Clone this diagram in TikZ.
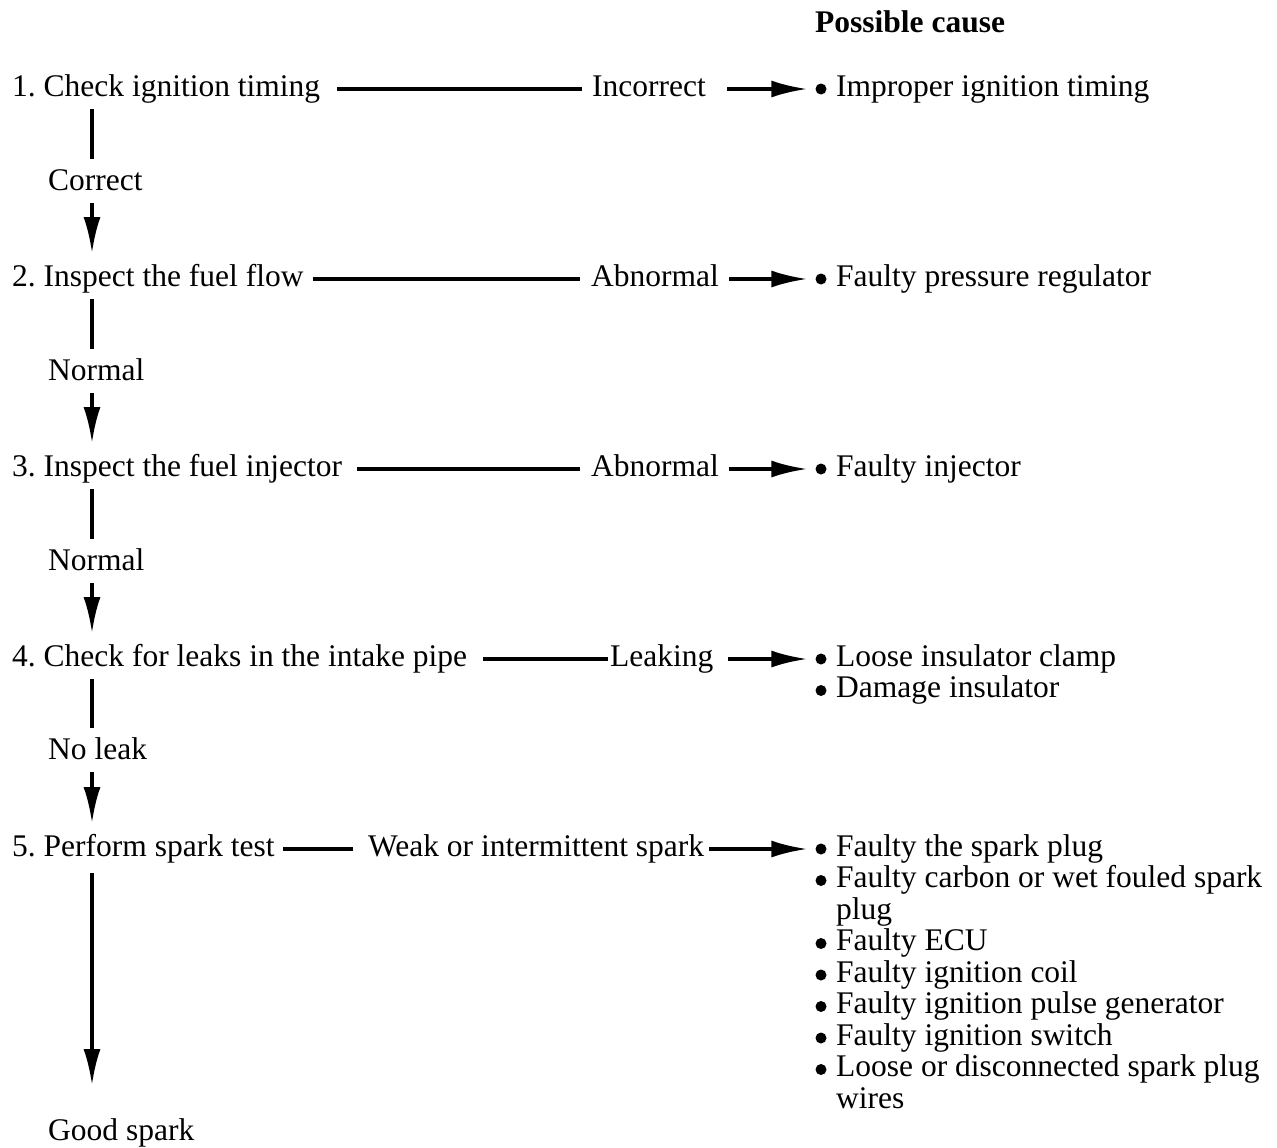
\documentclass[tikz,border=0pt]{standalone}
\usepackage{fontspec}
\setmainfont{Liberation Serif}
\usetikzlibrary{arrows.meta}
\newcommand{\dsz}{\fontsize{31.5}{31.6}\selectfont\frenchspacing}
\begin{document}
\begin{tikzpicture}[x=1pt,y=-1pt,
  txt/.style={inner sep=0pt, anchor=base west, text height=14pt, text depth=0pt, font=\dsz},
  ln/.style={line width=3.5pt},
  arr/.style={line width=3.5pt, -{Latex[length=36pt,width=17pt]}},
  bul/.style={circle, fill=black, inner sep=0pt, minimum size=11pt}]
\useasboundingbox (0,0) rectangle (1277,1148);
\coordinate (trunk) at (92,0);

\node[txt, font=\dsz\bfseries] (head) at (815,33) {Possible cause};

% steps
\node[txt] (s1) at (12,96) {1. Check ignition timing};
\node[txt] (s2) at (12,286) {2. Inspect the fuel flow};
\node[txt] (s3) at (12,476) {3. Inspect the fuel injector};
\node[txt] (s4) at (12,666) {4. Check for leaks in the intake pipe};
\node[txt] (s5) at (12,856) {5. Perform spark test};

% vertical labels
\node[txt] (v1) at (48,190) {Correct};
\node[txt] (v2) at (48,380) {Normal};
\node[txt] (v3) at (48,570) {Normal};
\node[txt] (v4) at (48,759) {No leak};
\node[txt] (gs) at (48,1140) {Good spark};

% horizontal labels
\node[txt] (l1) at (592,96) {Incorrect};
\node[txt] (l2) at (591,286) {Abnormal};
\node[txt] (l3) at (591,476) {Abnormal};
\node[txt] (l4) at (610,666) {Leaking};
\node[txt] (l5) at (368,856) {Weak or intermittent spark};

% bullets and causes
\node[bul] (b1) at (821,89) {};
\node[txt] (c1) at (836,96) {Improper ignition timing};
\node[bul] (b2) at (821,279) {};
\node[txt] (c2) at (836,286) {Faulty pressure regulator};
\node[bul] (b3) at (821,469) {};
\node[txt] (c3) at (836,476) {Faulty injector};
\node[bul] (b4) at (821,659) {};
\node[txt] (c4) at (836,666) {Loose insulator clamp};
\node[bul] (b4b) at (821,690.5) {};
\node[txt] (c4b) at (836,697.5) {Damage insulator};
\node[bul] (b5) at (821,849) {};
\node[txt] (c5) at (836,856) {Faulty the spark plug};
\node[bul] (b5b) at (821,880.5) {};
\node[txt] (c5b) at (836,887.5) {Faulty carbon or wet fouled spark};
\node[txt] (c5bb) at (836,919) {plug};
\node[bul] (b5c) at (821,943.5) {};
\node[txt] (c5c) at (836,950.5) {Faulty ECU};
\node[bul] (b5d) at (821,975) {};
\node[txt] (c5d) at (836,982) {Faulty ignition coil};
\node[bul] (b5e) at (821,1006.5) {};
\node[txt] (c5e) at (836,1013.5) {Faulty ignition pulse generator};
\node[bul] (b5f) at (821,1038) {};
\node[txt] (c5f) at (836,1045) {Faulty ignition switch};
\node[bul] (b5g) at (821,1069.5) {};
\node[txt] (c5g) at (836,1076.5) {Loose or disconnected spark plug};
\node[txt] (c5gg) at (836,1108) {wires};

% horizontal connectors
\draw[ln, shorten <=17pt, shorten >=10pt] (s1.east) -- (l1.west);
\draw[arr, shorten <=21pt, shorten >=8pt] (l1.east) -- (b1.west);
\draw[ln, shorten <=9pt, shorten >=11pt] (s2.east) -- (l2.west);
\draw[arr, shorten <=10pt, shorten >=8pt] (l2.east) -- (b2.west);
\draw[ln, shorten <=15pt, shorten >=11pt] (s3.east) -- (l3.west);
\draw[arr, shorten <=10pt, shorten >=8pt] (l3.east) -- (b3.west);
\draw[ln, shorten <=16pt, shorten >=2pt] (s4.east) -- (l4.west);
\draw[arr, shorten <=14pt, shorten >=8pt] (l4.east) -- (b4.west);
\draw[ln, shorten <=8pt, shorten >=15pt] (s5.east) -- (l5.west);
\draw[arr, shorten <=5pt, shorten >=8pt] (l5.east) -- (b5.west);

% vertical connectors
\draw[ln, shorten <=20pt, shorten >=24pt] (s1.west -| trunk) -- (v1.west -| trunk);
\draw[arr, shorten <=20pt, shorten >=26pt] (v1.west -| trunk) -- (s2.west -| trunk);
\draw[ln, shorten <=20pt, shorten >=24pt] (s2.west -| trunk) -- (v2.west -| trunk);
\draw[arr, shorten <=20pt, shorten >=26pt] (v2.west -| trunk) -- (s3.west -| trunk);
\draw[ln, shorten <=20pt, shorten >=24pt] (s3.west -| trunk) -- (v3.west -| trunk);
\draw[arr, shorten <=20pt, shorten >=26pt] (v3.west -| trunk) -- (s4.west -| trunk);
\draw[ln, shorten <=20pt, shorten >=24pt] (s4.west -| trunk) -- (v4.west -| trunk);
\draw[arr, shorten <=20pt, shorten >=26pt] (v4.west -| trunk) -- (s5.west -| trunk);
\draw[arr, shorten <=24pt, shorten >=48pt] (s5.west -| trunk) -- (gs.west -| trunk);
\end{tikzpicture}
\end{document}
